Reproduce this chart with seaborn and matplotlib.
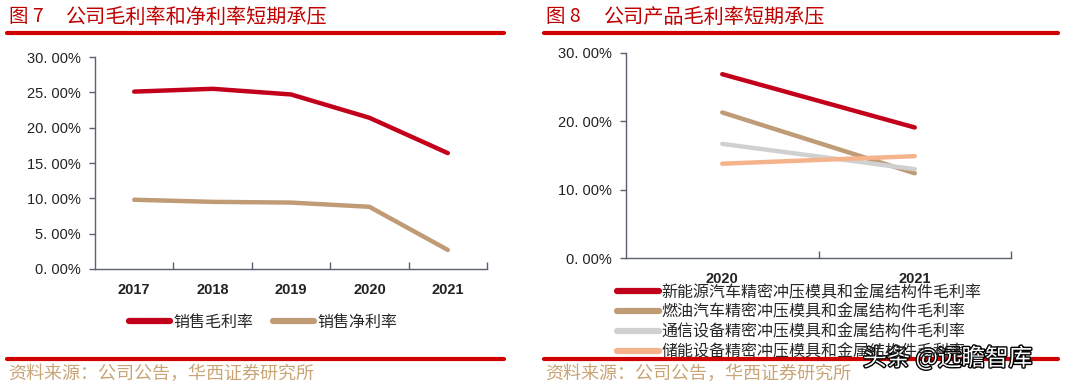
import matplotlib
matplotlib.use("Agg")
import matplotlib.pyplot as plt
import matplotlib.patheffects as pe
from matplotlib.lines import Line2D
from matplotlib.ticker import FuncFormatter, FixedLocator
import pandas as pd
import seaborn as sns

# Figure 7 data (left)
years_left = ["2017", "2018", "2019", "2020", "2021"]
gross_margin = [25.1, 25.5, 24.7, 21.4, 16.4]
net_margin = [9.8, 9.5, 9.4, 8.8, 2.7]
left_series = ["销售毛利率", "销售净利率"]

# Figure 8 data (right)
years_right = ["2020", "2021"]
nev_margin = [26.9, 19.1]
fuel_margin = [21.3, 12.4]
telecom_margin = [16.7, 13.0]
storage_margin = [13.8, 14.9]
right_series = [
    "新能源汽车精密冲压模具和金属结构件毛利率",
    "燃油汽车精密冲压模具和金属结构件毛利率",
    "通信设备精密冲压模具和金属结构件毛利率",
    "储能设备精密冲压模具和金属结构件毛利率",
]

RED = "#C3001B"
BROWN = "#BF9B76"
GRAY = "#D0D0D0"
PEACH = "#F5B38C"
SPINE = "#5A6072"
TITLE_RED = "#C00000"
SOURCE = "#C9A575"

sns.set_theme(style="white")
plt.rcParams["font.family"] = ["Liberation Sans", "Noto Sans CJK SC"]

df_left = pd.DataFrame({
    "year": years_left * 2,
    "value": gross_margin + net_margin,
    "series": [left_series[0]] * 5 + [left_series[1]] * 5,
})
df_right = pd.DataFrame({
    "year": years_right * 4,
    "value": nev_margin + fuel_margin + telecom_margin + storage_margin,
    "series": [s for s in right_series for _ in years_right],
})

fig = plt.figure(figsize=(10.8, 3.86), dpi=100)
ax1 = fig.add_axes([95 / 1080, 1 - 269 / 386, 392 / 1080, 212 / 386])
ax2 = fig.add_axes([626 / 1080, 1 - 258 / 386, 385 / 1080, 205 / 386])

pal_left = dict(zip(left_series, [RED, BROWN]))
pal_right = dict(zip(right_series, [RED, BROWN, GRAY, PEACH]))

sns.lineplot(data=df_left, x="year", y="value", hue="series", palette=pal_left,
             linewidth=3.2, legend=False, ax=ax1, solid_capstyle="round")
sns.lineplot(data=df_right, x="year", y="value", hue="series", palette=pal_right,
             linewidth=3.2, legend=False, ax=ax2, solid_capstyle="round")

pct = FuncFormatter(lambda v, p: f"{v:.2f}%".replace(".", ". "))


def style_axes(ax, n, ymax, step):
    ax.set_xlim(-0.5, n - 0.5)
    ax.set_ylim(0, ymax)
    ax.set_yticks([i * step for i in range(int(ymax / step) + 1)])
    ax.yaxis.set_major_formatter(pct)
    ax.set_xlabel("")
    ax.set_ylabel("")
    for side in ["top", "right"]:
        ax.spines[side].set_visible(False)
    for side in ["left", "bottom"]:
        ax.spines[side].set_color(SPINE)
        ax.spines[side].set_linewidth(1.0)
    ax.tick_params(axis="y", which="major", direction="out", length=4, width=1,
                   color=SPINE, labelsize=10.5, labelcolor="#222222", pad=6, left=True)
    ax.tick_params(axis="x", which="major", length=0, labelsize=10.5,
                   labelcolor="#222222", pad=10)
    # separators between categories, pointing inward
    ax.xaxis.set_minor_locator(FixedLocator([i + 0.5 for i in range(n)]))
    ax.tick_params(axis="x", which="minor", direction="in", length=5, width=1,
                   color=SPINE, bottom=True)
    for lab in ax.get_xticklabels():
        lab.set_fontweight("bold")
    ax.grid(False)


style_axes(ax1, len(years_left), 30, 5)
style_axes(ax2, len(years_right), 30, 10)

# legends
h_left = [Line2D([], [], color=pal_left[s], lw=4.5, solid_capstyle="round") for s in left_series]
fig.legend(h_left, left_series, loc="center", bbox_to_anchor=(263 / 1080, 1 - 322 / 386),
           ncol=2, frameon=False, handlelength=2.6, handletextpad=0.2,
           columnspacing=1.2, prop={"family": ["Noto Sans CJK SC"], "size": 11.5})

h_right = [Line2D([], [], color=pal_right[s], lw=4.5, solid_capstyle="round") for s in right_series]
fig.legend(h_right, right_series, loc="upper left", bbox_to_anchor=(617 / 1080, 1 - 284 / 386),
           ncol=1, frameon=False, handlelength=2.6, handletextpad=0.2,
           labelspacing=0.17, borderpad=0, borderaxespad=0,
           prop={"family": ["Noto Sans CJK SC"], "size": 11.5})

# titles and rules
fig.text(9 / 1080, 1 - 17 / 386, "图 7", color=TITLE_RED, fontsize=14, va="center",
         family=["Noto Sans CJK SC"])
fig.text(66 / 1080, 1 - 17 / 386, "公司毛利率和净利率短期承压", color=TITLE_RED, fontsize=14.5,
         va="center", family=["Noto Sans CJK SC"])
fig.text(546 / 1080, 1 - 17 / 386, "图 8", color=TITLE_RED, fontsize=14, va="center",
         family=["Noto Sans CJK SC"])
fig.text(604 / 1080, 1 - 17 / 386, "公司产品毛利率短期承压", color=TITLE_RED, fontsize=14.5,
         va="center", family=["Noto Sans CJK SC"])

for x0, x1 in [(7, 504), (544, 1058)]:
    for y in [33, 359]:
        fig.add_artist(Line2D([x0 / 1080, x1 / 1080], [1 - y / 386] * 2,
                              color="#D00000", lw=3, transform=fig.transFigure))

fig.text(8 / 1080, 1 - 374 / 386, "资料来源：公司公告，华西证券研究所", color=SOURCE,
         fontsize=13, va="center", family=["Noto Sans CJK SC"])
fig.text(545 / 1080, 1 - 374 / 386, "资料来源：公司公告，华西证券研究所", color=SOURCE,
         fontsize=13, va="center", family=["Noto Sans CJK SC"])

# watermark
fig.text(863 / 1080, 1 - 358 / 386, "头条 @远瞻智库", color="white", fontsize=17,
         va="center", family=["Noto Sans CJK SC"],
         path_effects=[pe.withStroke(linewidth=2, foreground="black")])

fig.savefig("out.png", dpi=100)
